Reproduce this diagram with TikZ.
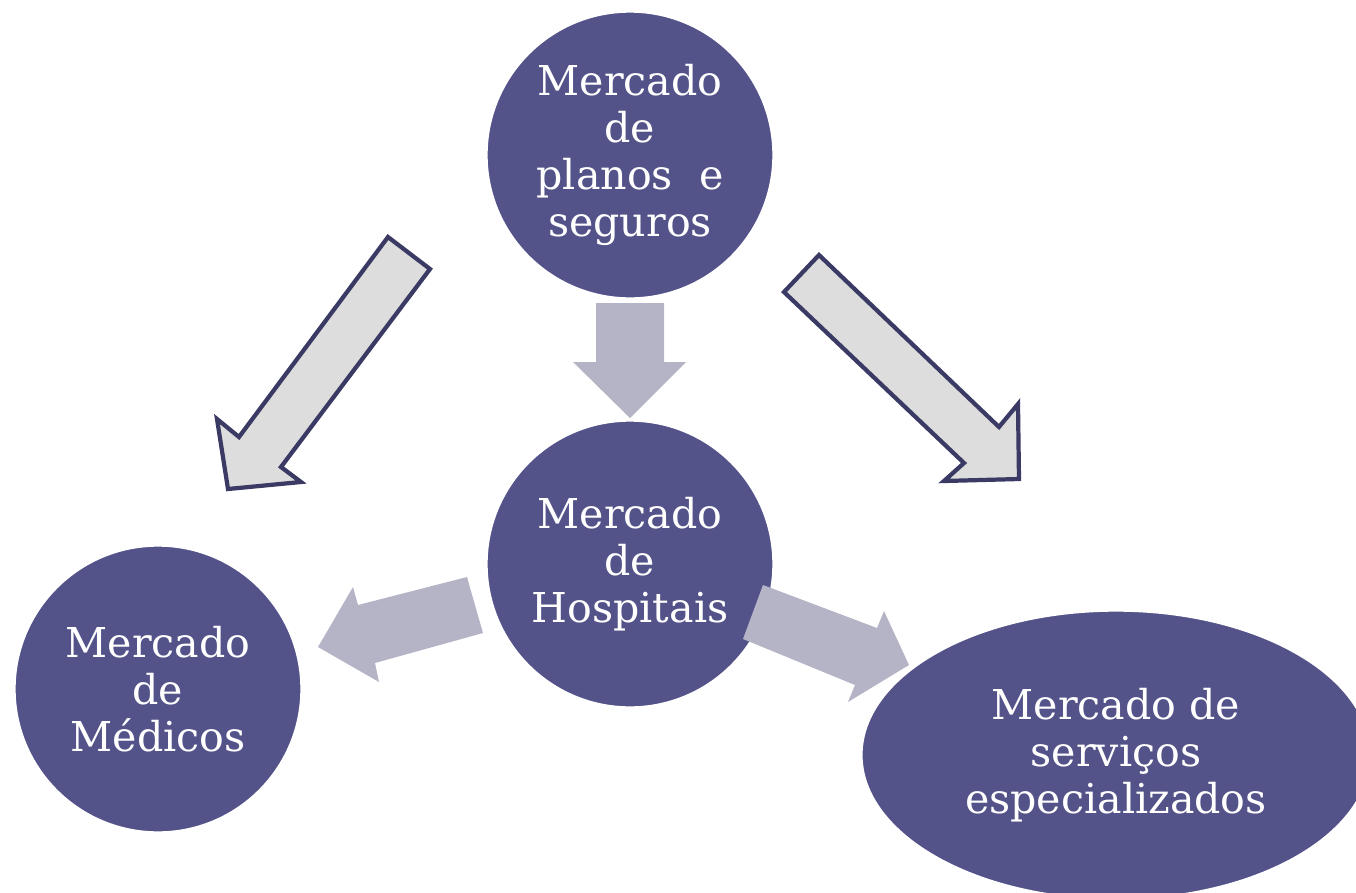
\documentclass[tikz,border=0pt]{standalone}
\usepackage{fontspec}
\setmainfont{DejaVu Serif}
\usetikzlibrary{shapes.geometric}
\definecolor{mkfill}{RGB}{83,83,138}
\definecolor{setacinza}{RGB}{180,180,198}
\definecolor{setaclara}{RGB}{221,221,221}
\definecolor{setaborda}{RGB}{58,58,100}
\tikzset{
  mercado/.style={circle,fill=mkfill,draw=white,line width=1pt,minimum size=2.88cm,
    inner sep=0pt,text=white,align=center,font=\fontsize{11.7}{13.4}\selectfont},
  setacheia/.style={fill=setacinza,draw=none},
  setaoca/.style={fill=setaclara,draw=setaborda,line width=1.2pt,line join=miter}
}
\begin{document}
\begin{tikzpicture}[x=0.01cm,y=-0.01cm]
 \useasboundingbox (0,0) rectangle (1356,893);
 \clip (0,0) rectangle (1356,893);
 % mercados
 \node[mercado] (planos) at (630,155) {Mercado\\de\\planos\ \ e\\seguros};
 \node[mercado] (hospitais) at (630,564) {Mercado\\de\\Hospitais};
 \node[mercado] (medicos) at (158,689) {Mercado\\de\\Médicos};
 % setas
 \draw[setaoca](388,237)--(430,269)--(281,467)--(301,482)--(228,489)--(217,419)--(239,437)--cycle;
 \draw[setaoca](819,255)--(784,292)--(964,463)--(944,481)--(1019,479)--(1018,404)--(999,427)--cycle;
 \fill[setacheia](596,303)--(664,303)--(664,362)--(686,362)--(630,418)--(573,362)--(596,362)--cycle;
 \fill[setacheia](467,577)--(483,633)--(375,663)--(379,682)--(318,647)--(353,587)--(358,605)--cycle;
 \fill[setacheia](763,585)--(743,639)--(855,685)--(848,702)--(909,665)--(884,611)--(877,628)--cycle;
 \node[mercado,ellipse,minimum width=5.1cm,minimum height=2.9cm] (servicos) at (1116,755)
   {Mercado de\\serviços\\especializados};
\end{tikzpicture}
\end{document}
